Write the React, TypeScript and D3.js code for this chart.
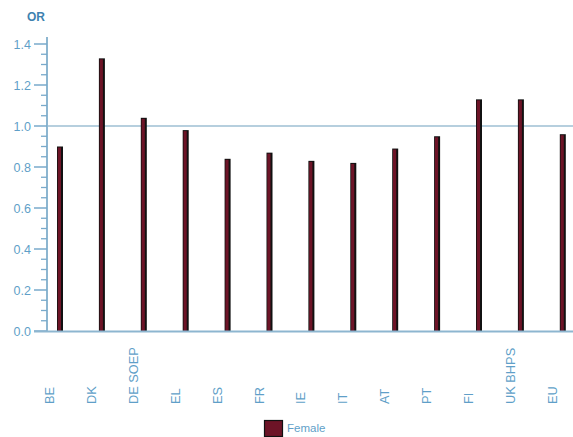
import React from "react";
import * as d3 from "d3";

const categories = ["BE", "DK", "DE SOEP", "EL", "ES", "FR", "IE", "IT", "AT", "PT", "FI", "UK BHPS", "EU"];
const femaleValues = [0.90, 1.33, 1.04, 0.98, 0.84, 0.87, 0.83, 0.82, 0.89, 0.95, 1.13, 1.13, 0.96];
const majorTicks = [0, 0.2, 0.4, 0.6, 0.8, 1.0, 1.2, 1.4];
const seriesName = "Female";
const yTitle = "OR";
const refValue = 1.0;

const W = 573;
const H = 437;
const axisX = 47;
const baseY = 331;

export default function App() {
  const y = d3.scaleLinear().domain([0, 1.4]).range([baseY, 44]);
  const x = d3.scaleBand().domain(categories).range([axisX, axisX + 13 * 41.9]);
  const minor = d3.range(0, 1.4001, 0.05).filter((v) => Math.abs(Math.round(v * 5) - v * 5) > 1e-6);
  const axisColor = "#8db6d0";
  const textColor = "#5f9fc8";
  const font = "'Liberation Sans', Arial, sans-serif";
  return (
    <svg width={W} height={H} style={{ position: "absolute", left: 0, top: 0, background: "#fff" }}>
      <text x={27} y={21} fontFamily={font} fontSize={12} fontWeight="bold" fill="#3f82b0">{yTitle}</text>
      {/* reference line */}
      <line x1={axisX} x2={W} y1={y(refValue)} y2={y(refValue)} stroke="#6f9fbd" strokeWidth={1.2} />
      {/* y axis */}
      <line x1={axisX} x2={axisX} y1={y(1.4) - 7} y2={baseY} stroke={axisColor} strokeWidth={2} />
      {majorTicks.map((t) => (
        <g key={"M" + t}>
          <line x1={34} x2={axisX} y1={y(t)} y2={y(t)} stroke="#78aacb" strokeWidth={1.5} />
          <text x={31} y={y(t) + 4.5} textAnchor="end" fontFamily={font} fontSize={12.5} fill={textColor}>
            {t.toFixed(1)}
          </text>
        </g>
      ))}
      {minor.map((t) => (
        <line key={"m" + t} x1={41} x2={axisX} y1={y(t)} y2={y(t)} stroke="#78aacb" strokeWidth={1.3} />
      ))}
      {/* bars */}
      {categories.map((c, i) => {
        const bx = (x(c) as number) + 10;
        const top = y(femaleValues[i]);
        return (
          <g key={c}>
            <rect x={bx} y={top} width={6} height={baseY - top} fill="#111" />
            <rect x={bx + 0.8} y={top + 1} width={3.2} height={baseY - top - 1} fill="#6d1427" />
          </g>
        );
      })}
      {/* x baseline */}
      <line x1={34} x2={W} y1={baseY + 0.5} y2={baseY + 0.5} stroke={axisColor} strokeWidth={2} />
      {/* x labels */}
      {categories.map((c) => {
        const lx = (x(c) as number) + 3;
        return (
          <text
            key={"l" + c}
            transform={`translate(${lx + 4},404) rotate(-90)`}
            textAnchor="start"
            fontFamily={font}
            fontSize={12.8}
            fill={textColor}
          >
            {c}
          </text>
        );
      })}
      {/* legend */}
      <rect x={264.5} y={420.5} width={18} height={16} fill="#6d1427" stroke="#111" strokeWidth={1.2} />
      <text x={287} y={432} fontFamily={font} fontSize={11.5} fill={textColor}>{seriesName}</text>
    </svg>
  );
}
